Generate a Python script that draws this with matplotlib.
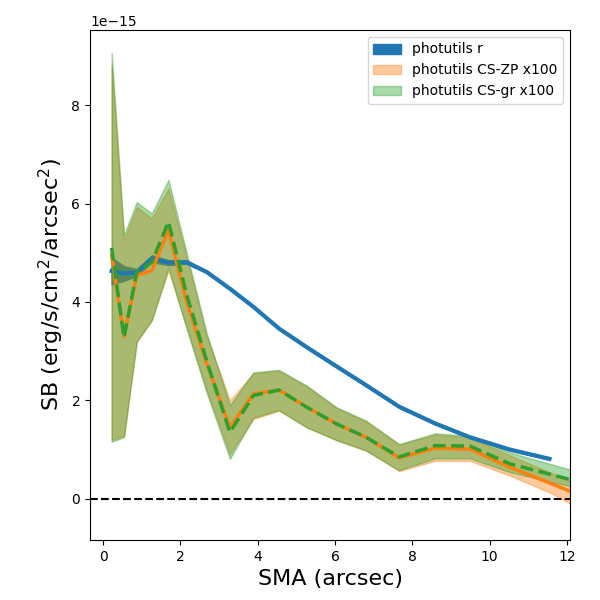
import numpy as np
import matplotlib.pyplot as plt

# semi-major axis (arcsec)
sma = np.array([0.22, 0.54, 0.87, 1.26, 1.69, 2.16, 2.68, 3.28, 3.89, 4.55,
                5.27, 6.04, 6.80, 7.66, 8.59, 9.49, 10.52, 11.55, 12.65])

# photutils r-band profile (1e-15 erg/s/cm2/arcsec2)
sb_r = np.array([4.63, 4.58, 4.60, 4.88, 4.80, 4.81, 4.61, 4.27, 3.90, 3.46,
                 3.08, 2.69, 2.31, 1.87, 1.53, 1.25, 1.00, 0.81])
sb_r_err = np.array([0.27, 0.15, 0.07, 0.07, 0.05, 0.03, 0.02, 0.02, 0.02, 0.02,
                     0.02, 0.02, 0.02, 0.02, 0.02, 0.02, 0.02, 0.02])

# CS-ZP x100
zp = np.array([4.95, 3.30, 4.54, 4.64, 5.46, 4.00, 2.75, 1.45, 2.13, 2.21,
               1.86, 1.52, 1.25, 0.83, 1.03, 1.01, 0.64, 0.32, -0.03])
zp_hi = np.array([8.80, 5.25, 5.93, 5.70, 6.31, 4.90, 3.30, 2.00, 2.55, 2.60,
                  2.28, 1.84, 1.57, 1.10, 1.30, 1.25, 0.88, 0.54, 0.18])
zp_lo = np.array([1.20, 1.28, 3.18, 3.63, 4.64, 3.50, 2.20, 0.91, 1.62, 1.79,
                  1.45, 1.19, 0.98, 0.56, 0.77, 0.77, 0.47, 0.13, -0.34])

# CS-gr x100
gr = np.array([5.10, 3.28, 4.61, 4.81, 5.63, 4.15, 2.80, 1.35, 2.10, 2.21,
               1.86, 1.52, 1.25, 0.85, 1.08, 1.07, 0.71, 0.50, 0.27])
gr_hi = np.array([9.06, 5.36, 6.03, 5.80, 6.48, 5.00, 3.36, 1.90, 2.57, 2.62,
                  2.30, 1.86, 1.59, 1.11, 1.33, 1.28, 0.94, 0.71, 0.47])
gr_lo = np.array([1.16, 1.25, 3.20, 3.63, 4.70, 3.45, 2.15, 0.81, 1.65, 1.80,
                  1.45, 1.19, 0.98, 0.58, 0.82, 0.82, 0.54, 0.35, 0.15])

s = 1e-15
n_r = len(sb_r)

fig, ax = plt.subplots(figsize=(6, 6), dpi=100)
fig.subplots_adjust(left=0.15, right=0.95, top=0.95, bottom=0.1)

ax.fill_between(sma[:n_r], (sb_r - sb_r_err) * s, (sb_r + sb_r_err) * s,
                color='C0', label='photutils r')
ax.fill_between(sma, zp_lo * s, zp_hi * s, color='C1', alpha=0.4,
                label='photutils CS-ZP x100')
ax.fill_between(sma, gr_lo * s, gr_hi * s, color='C2', alpha=0.4,
                label='photutils CS-gr x100')

ax.plot(sma[:n_r], sb_r * s, color='C0', lw=3)
ax.plot(sma, zp * s, color='C1', lw=2.5)
ax.plot(sma, gr * s, color='C2', lw=2.5, ls='--')
ax.axhline(0, color='k', ls='--', lw=1.5)

ax.set_xlim(-0.34, 12.08)
ax.set_ylim(-0.84e-15, 9.53e-15)
ax.set_xlabel('SMA (arcsec)', fontsize=16)
ax.set_ylabel(r'SB (erg/s/cm$^2$/arcsec$^2$)', fontsize=16)
ax.legend(loc='upper right')

fig.savefig('out.png')
